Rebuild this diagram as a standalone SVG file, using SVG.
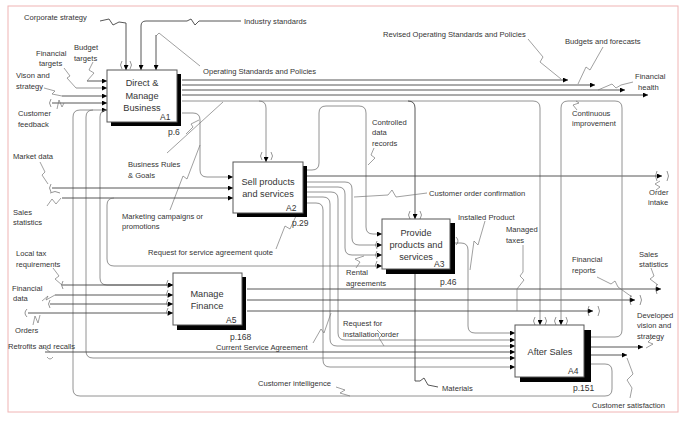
<svg xmlns="http://www.w3.org/2000/svg" width="691" height="424" viewBox="0 0 691 424">
<defs>
<marker id="a" viewBox="0 0 6 6" refX="6" refY="3" markerWidth="6" markerHeight="5" markerUnits="userSpaceOnUse" orient="auto"><path d="M0,0 L6,3 L0,6 z" fill="#000"/></marker>
<style>
.c{fill:none;stroke:#444;stroke-width:0.9}
.g{fill:none;stroke:#777;stroke-width:0.8}
.l{fill:none;stroke:#777;stroke-width:0.7}
.t{fill:none;stroke:#666;stroke-width:0.7}
.bx{fill:#fff;stroke:#555;stroke-width:1}
.sh{fill:#000}
text{font-family:"Liberation Sans",Arial,sans-serif;fill:#333}
.tx{font-size:7.6px}
.bt{font-size:9.2px;text-anchor:middle}
.id{font-size:8.5px}
.gl{opacity:0.99}
</style>
</defs>
<rect x="0" y="0" width="691" height="424" fill="#fff"/>
<rect x="8" y="6" width="670" height="406" fill="none" stroke="#f0b4b4" stroke-width="1"/>

<g id="connectors">
<!-- A1 controls -->
<path class="c" d="M100,21 L109,19 L113,25 L119,22 L126,23 V70" marker-end="url(#a)"/>
<path class="t" d="M122,61 Q119,65 122,69 M130,61 Q133,65 130,69"/>
<path class="c" d="M241,21 H199 L195,25 L191,19 L187,21 H146 Q141,21 141,26 V70" marker-end="url(#a)"/>
<path class="c" d="M156,35 V70" marker-end="url(#a)"/>
<path class="l" d="M156,36 L159,33 L200,66"/>
<!-- A1 inputs -->
<path class="c" d="M87,81 H107" marker-end="url(#a)"/>
<path class="l" d="M93,62 L89,70 L94,73 L87,81"/>
<path class="g" d="M76,88 H107" marker-end="url(#a)"/>
<path class="l" d="M64,68 L70,76 L67,78 L76,88"/>
<path class="c" d="M62,96 H107" marker-end="url(#a)"/>
<path class="l" d="M44,88 L55,91 L52,94 L62,96"/>
<path class="c" d="M52,103 H107" marker-end="url(#a)"/>
<path class="t" d="M51,99 Q48,103 51,107"/>
<path class="l" d="M57,109 L59,100 L62,107 L64,103"/>
<path class="g" d="M591,364 H605 Q612,364 612,371 V389 Q612,396 605,396 H80 Q73,396 73,389 V117 Q73,110 80,110 H107" marker-end="url(#a)"/>
<path class="g" d="M93,110 Q86,110 86,117 V351 Q86,358 93,358 H515" marker-end="url(#a)"/>
<path class="g" d="M107,110 Q100,110 100,117 V278 Q100,285 107,285 H173" marker-end="url(#a)"/>
<!-- A1 outputs -->
<path class="c" d="M182,80 H568" marker-end="url(#a)"/>
<path class="c" d="M182,85 H595" marker-end="url(#a)"/>
<path class="c" d="M182,90 H625" marker-end="url(#a)"/>
<path class="c" d="M182,95 H648" marker-end="url(#a)"/>
<path class="g" d="M182,101 H533 Q540,101 540,108 V325" marker-end="url(#a)"/>
<path class="g" d="M259,101 Q266,101 266,108 V162" marker-end="url(#a)"/>
<path class="c" d="M408,101 Q415,101 415,108 V219" marker-end="url(#a)"/>
<path class="g" d="M182,113 H193 Q200,113 200,120 V170 Q200,177 207,177 H233" marker-end="url(#a)"/>
<path class="l" d="M528,39 L543,57 L540,62 L561,79"/>
<path class="l" d="M603,47 L590,70 L586,67 L578,84"/>
<path class="l" d="M633,82 L621,85 L616,88 L612,84 L598,90"/>
<path class="l" d="M577,110 L573,105 L579,103 L576,101"/>
<path class="l" d="M167,153 L223,102"/>
<path class="l" d="M170,210 L183,176 L187,179 L200,145"/>
<path class="l" d="M186,134 L193,127 L191,124 L199,120"/>
<!-- A2 -->
<path class="t" d="M262,152 Q259,156 262,160 M271,152 Q274,156 271,160"/>
<path class="l" d="M40,162 L45,172 L42,175 L48,184"/>
<path class="t" d="M51,184 Q48,188 51,192"/>
<path class="c" d="M52,188 H233" marker-end="url(#a)"/>
<path class="l" d="M47,206 L52,199 L56,204 L61,198"/>
<path class="t" d="M50,193 Q55,190 60,193"/>
<path class="c" d="M62,198 H233" marker-end="url(#a)"/>
<path class="g" d="M114,198 Q107,198 107,205 V259 Q107,266 114,266 H382" marker-end="url(#a)"/>
<path class="g" d="M307,170 H312 Q319,170 319,163 V113 Q319,106 326,106 H359 Q366,106 366,113 V227 Q366,234 373,234 H382" marker-end="url(#a)"/>
<path class="c" d="M307,176 H662" marker-end="url(#a)"/>
<path class="t" d="M657,171 Q654,176 657,181 M667,171 Q670,176 667,181"/>
<path class="l" d="M660,181 L655,184 L660,187 L656,190"/>
<path class="g" d="M307,182 H345 Q352,182 352,189 V238 Q352,245 359,245 H382" marker-end="url(#a)"/>
<path class="g" d="M307,187 H338 Q345,187 345,194 V248 Q345,255 352,255 H382" marker-end="url(#a)"/>
<path class="g" d="M307,192 H331 Q338,192 338,199 V333 Q338,340 345,340 H515" marker-end="url(#a)"/>
<path class="g" d="M307,197 H323 Q330,197 330,204 V339 Q330,346 337,346 H515" marker-end="url(#a)"/>
<path class="g" d="M307,203 H316 Q323,203 323,210 V360 Q323,367 330,367 H515" marker-end="url(#a)"/>
<path class="l" d="M354,197 L388,195 L392,190 L396,197 L427,193"/>
<path class="l" d="M276,249 L285,226 L290,229 L302,203"/>
<path class="l" d="M374,148 L371,155 L375,158 L368,165"/>
<!-- A3 -->
<path class="t" d="M410,211 Q407,215 410,219 M420,211 Q423,215 420,219"/>
<path class="t" d="M377,241 Q374,245 377,249 M377,251 Q374,255 377,259 M377,261 Q374,265 377,269"/>
<path class="g" d="M455,243 H461 Q468,243 468,250 V326 Q468,333 475,333 H515" marker-end="url(#a)"/>
<path class="t" d="M456,237 Q460,241 456,245"/>
<path class="c" d="M415,274 V381 L420,381 L424,378 L428,385 L438,387"/>
<path class="l" d="M485,221 L478,245 L474,241 L470,270"/>
<path class="l" d="M356,268 L360,262 L355,259 L364,256"/>
<!-- A5 -->
<path class="l" d="M53,268 L59,276 L55,279 L62,285"/>
<path class="t" d="M63,281 Q60,285 63,289"/>
<path class="c" d="M62,285 H173" marker-end="url(#a)"/>
<path class="l" d="M42,301 L48,296 L46,300 L55,295"/>
<path class="c" d="M55,295 H173" marker-end="url(#a)"/>
<path class="t" d="M50,300 Q47,304 50,308"/>
<path class="c" d="M50,304 H173" marker-end="url(#a)"/>
<path class="t" d="M27,309 Q23,313 27,317"/>
<path class="c" d="M28,313 H173" marker-end="url(#a)"/>
<path class="l" d="M33,325 L35,316 L38,323 L40,315"/>
<path class="t" d="M168,280 Q165,284 168,288 M168,290 Q165,294 168,298 M168,299 Q165,303 168,307 M168,308 Q165,312 168,316"/>
<path class="c" d="M247,289 H661" marker-end="url(#a)"/>
<path class="t" d="M657,284 Q654,289 657,294"/>
<path class="c" d="M247,300 H635" marker-end="url(#a)"/>
<path class="t" d="M631,295 Q628,300 631,305 M640,295 Q643,300 640,305"/>
<path class="c" d="M247,311 H593" marker-end="url(#a)"/>
<path class="t" d="M589,306 Q586,311 589,316 M598,306 Q601,311 598,316"/>
<path class="l" d="M597,277 L611,284 L615,281 L618,287 L632,297"/>
<path class="l" d="M651,268 L654,276 L650,279 L658,285"/>
<path class="l" d="M523,245 V272 L520,276 L524,280 L517,289 V311"/>
<path class="l" d="M313,343 L321,329 L324,333 L331,313"/>
<path class="l" d="M377,330 L382,335 L379,338 L384,346"/>
<!-- A4 -->
<path class="c" d="M45,352 H515" marker-end="url(#a)"/>
<path class="l" d="M43,347 L50,352 M47,357 Q50,361 53,357"/>
<path class="g" d="M591,337 H615 Q622,337 622,330 V108 Q622,101 615,101 H568 Q561,101 561,108 V325" marker-end="url(#a)"/>
<path class="t" d="M535,317 Q532,321 535,325 M545,317 Q548,321 545,325 M556,317 Q553,321 556,325 M566,317 Q569,321 566,325"/>
<path class="c" d="M591,347 H643" marker-end="url(#a)"/>
<path class="l" d="M653,337 L648,342 L653,344 L646,348"/>
<path class="c" d="M591,355 H627" marker-end="url(#a)"/>
<path class="l" d="M630,398 L632,388 L627,380 L633,374 L627,358"/>
<path class="l" d="M336,387 L345,390 L340,393 L350,396"/>
</g>

<g id="A1" class="gl">
<rect class="sh" x="111" y="74" width="70" height="52"/>
<rect class="bx" x="107" y="70" width="70" height="52"/>
<text class="bt" x="142" y="86">Direct &amp;</text>
<text class="bt" x="142" y="99">Manage</text>
<text class="bt" x="142" y="111">Business</text>
<text class="id" x="160" y="120">A1</text>
<text class="id" x="168" y="135">p.6</text>
</g>
<g id="A2" class="gl">
<rect class="sh" x="237" y="166" width="70" height="51"/>
<rect class="bx" x="233" y="162" width="70" height="51"/>
<text class="bt" x="268" y="185">Sell products</text>
<text class="bt" x="268" y="197">and services</text>
<text class="id" x="286" y="211">A2</text>
<text class="id" x="292" y="226">p.29</text>
</g>
<g id="A3" class="gl">
<rect class="sh" x="386" y="223" width="69" height="51"/>
<rect class="bx" x="382" y="219" width="68" height="50"/>
<text class="bt" x="416" y="236">Provide</text>
<text class="bt" x="416" y="248">products and</text>
<text class="bt" x="416" y="260">services</text>
<text class="id" x="434" y="267">A3</text>
<text class="id" x="440" y="285">p.46</text>
</g>
<g id="A5" class="gl">
<rect class="sh" x="177" y="277" width="69" height="53"/>
<rect class="bx" x="173" y="273" width="69" height="52"/>
<text class="bt" x="207" y="297">Manage</text>
<text class="bt" x="207" y="309">Finance</text>
<text class="id" x="226" y="323">A5</text>
<text class="id" x="230" y="340">p.168</text>
</g>
<g id="A4" class="gl">
<rect class="sh" x="520" y="330" width="71" height="52"/>
<rect class="bx" x="515" y="325" width="69" height="52"/>
<text class="bt" x="550" y="355">After Sales</text>
<text class="id" x="568" y="374">A4</text>
<text class="id" x="573" y="391">p.151</text>
</g>

<g id="labels" class="gl">
<text class="tx" x="24" y="20">Corporate strategy</text>
<text class="tx" x="244" y="24">Industry standards</text>
<text class="tx" x="36" y="56">Financial</text>
<text class="tx" x="39" y="66">targets</text>
<text class="tx" x="74" y="50">Budget</text>
<text class="tx" x="74" y="61">targets</text>
<text class="tx" x="16" y="78">Vison and</text>
<text class="tx" x="16" y="89">strategy</text>
<text class="tx" x="18" y="116">Customer</text>
<text class="tx" x="18" y="127">feedback</text>
<text class="tx" x="203" y="74">Operating Standards and Policies</text>
<text class="tx" x="383" y="37">Revised Operating Standards and Policies</text>
<text class="tx" x="565" y="44">Budgets and forecasts</text>
<text class="tx" x="635" y="79">Financial</text>
<text class="tx" x="638" y="90">health</text>
<text class="tx" x="572" y="116">Continuous</text>
<text class="tx" x="572" y="126">improvement</text>
<text class="tx" x="372" y="125">Controlled</text>
<text class="tx" x="372" y="135">data</text>
<text class="tx" x="372" y="146">records</text>
<text class="tx" x="128" y="167">Business Rules</text>
<text class="tx" x="128" y="178">&amp; Goals</text>
<text class="tx" x="13" y="159">Market data</text>
<text class="tx" x="13" y="215">Sales</text>
<text class="tx" x="13" y="225">statistics</text>
<text class="tx" x="122" y="219">Marketing campaigns or</text>
<text class="tx" x="122" y="229">promotions</text>
<text class="tx" x="148" y="255">Request for service agreement quote</text>
<text class="tx" x="429" y="196">Customer order confirmation</text>
<text class="tx" x="458" y="220">Installed Product</text>
<text class="tx" x="506" y="232">Managed</text>
<text class="tx" x="506" y="243">taxes</text>
<text class="tx" x="649" y="195">Order</text>
<text class="tx" x="648" y="205">intake</text>
<text class="tx" x="572" y="262">Financial</text>
<text class="tx" x="572" y="273">reports</text>
<text class="tx" x="639" y="257">Sales</text>
<text class="tx" x="639" y="267">statistics</text>
<text class="tx" x="346" y="275">Rental</text>
<text class="tx" x="346" y="286">agreements</text>
<text class="tx" x="16" y="256">Local tax</text>
<text class="tx" x="16" y="267">requirements</text>
<text class="tx" x="12" y="291">Financial</text>
<text class="tx" x="13" y="301">data</text>
<text class="tx" x="15" y="333">Orders</text>
<text class="tx" x="8" y="349">Retrofits and recalls</text>
<text class="tx" x="216" y="350">Current Service Agreement</text>
<text class="tx" x="343" y="326">Request for</text>
<text class="tx" x="343" y="337">installation order</text>
<text class="tx" x="258" y="386">Customer intelligence</text>
<text class="tx" x="442" y="391">Materials</text>
<text class="tx" x="637" y="318">Developed</text>
<text class="tx" x="637" y="328">vision and</text>
<text class="tx" x="637" y="339">strategy</text>
<text class="tx" x="592" y="408">Customer satisfaction</text>
</g>
</svg>
